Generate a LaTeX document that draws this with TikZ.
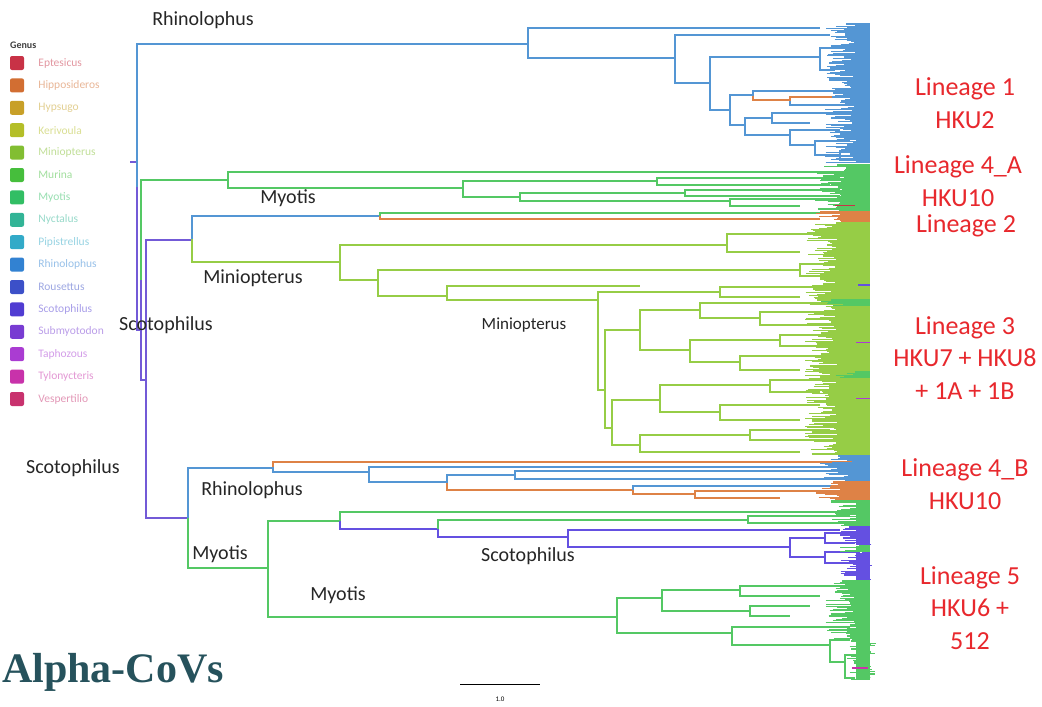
\documentclass[tikz,border=0pt]{standalone}
\usepackage{fontspec}
\setmainfont{Carlito}
\newfontfamily\titlefont{Liberation Serif}
\usetikzlibrary{positioning}

\definecolor{rhC}{RGB}{84,150,212}
\definecolor{myC}{RGB}{84,200,100}
\definecolor{miC}{RGB}{150,205,70}
\definecolor{hiC}{RGB}{222,130,70}
\definecolor{scC}{RGB}{100,80,225}
\definecolor{rootC}{RGB}{115,90,215}
\definecolor{linred}{RGB}{232,40,45}
\definecolor{titleC}{RGB}{38,82,92}
% genus legend colours
\definecolor{g1}{RGB}{200,50,70}
\definecolor{g2}{RGB}{210,110,50}
\definecolor{g3}{RGB}{200,160,40}
\definecolor{g4}{RGB}{180,190,40}
\definecolor{g5}{RGB}{130,190,50}
\definecolor{g6}{RGB}{70,190,60}
\definecolor{g7}{RGB}{50,190,100}
\definecolor{g8}{RGB}{50,180,150}
\definecolor{g9}{RGB}{50,170,200}
\definecolor{g10}{RGB}{50,130,210}
\definecolor{g11}{RGB}{60,80,200}
\definecolor{g12}{RGB}{80,60,210}
\definecolor{g13}{RGB}{120,60,210}
\definecolor{g14}{RGB}{170,60,210}
\definecolor{g15}{RGB}{200,50,170}
\definecolor{g16}{RGB}{200,50,110}

% node x, top y, top end, top style, bottom y, bottom end, bottom style
\newcommand{\fork}[7]{%
  \draw[#4] (#1,{(#2+#5)/2}) -- (#1,#2) -- (#3,#2);
  \draw[#7] (#1,{(#2+#5)/2}) -- (#1,#5) -- (#6,#5);}
% dense tips: colour, from y, to y, left edge
\newcommand{\tips}[4]{%
  \pgfmathtruncatemacro{\tn}{(#3-#2)/1.1}
  \foreach \k in {0,...,\tn}{
    \pgfmathsetmacro{\ty}{#2+\k*1.1}
    \pgfmathsetmacro{\tx}{#4+rnd*32}
    \draw[draw=#1, line width=1.1pt] (\tx,\ty) -- (870,\ty);}
  \fill[fill=#1] (856,#2) rectangle (870,#3);}

\begin{document}
\begin{tikzpicture}[x=1pt, y=-1pt,
  br/.style={line width=1.3pt},
  rh/.style={br, draw=rhC}, my/.style={br, draw=myC}, mi/.style={br, draw=miC},
  hi/.style={br, draw=hiC}, sc/.style={br, draw=scC}, rt/.style={br, draw=rootC},
  clade/.style={font=\fontsize{20}{24}\selectfont, text=black!85, inner sep=0},
  lineage/.style={font=\fontsize{26}{32.5}\selectfont, text=linred, align=center, inner sep=0},
  swatch/.style={minimum size=14pt, inner sep=0, rounded corners=2pt},
  legtext/.style={font=\fontsize{11.5}{13}\selectfont, inner sep=0}]
\fill[white] (0,0) rectangle (1042,707);
\useasboundingbox (0,0) rectangle (1042,707);
\pgfmathsetseed{11}

% Root
\draw[rt] (130,162) -- (137,162);
\fork{137}{44}{528}{rh}{330}{141}{rt}
\fork{141}{180}{228}{my}{380}{146}{rt}
\fork{146}{240}{192}{rt}{518}{188}{rt}

% Lineage 1 (Rhinolophus)
\fork{528}{28}{820}{rh}{58}{675}{rh}
\fork{675}{35}{830}{rh}{83}{710}{rh}
\fork{710}{57}{820}{rh}{110}{730}{rh}
\fork{820}{48}{850}{rh}{70}{835}{rh}
\fork{730}{95}{753}{rh}{125}{745}{rh}
\fork{753}{91}{850}{rh}{100}{790}{hi}
\fork{790}{97}{850}{hi}{105}{835}{rh}
\fork{745}{118}{772}{rh}{135}{790}{rh}
\fork{772}{113}{850}{rh}{123}{810}{rh}
\fork{790}{130}{840}{rh}{145}{815}{rh}
\fork{815}{141}{850}{rh}{155}{840}{rh}
\fork{840}{151}{860}{rh}{160}{855}{rh}

% Lineage 4_A (Myotis)
\fork{228}{172}{840}{my}{188}{463}{my}
\fork{463}{181}{657}{my}{197}{520}{my}
\fork{657}{178}{840}{my}{185}{830}{my}
\fork{520}{193}{685}{my}{201}{730}{my}
\fork{685}{190}{840}{my}{196}{840}{my}
\fork{730}{199}{840}{my}{206}{800}{my}

% Lineage 2 and 3 (Miniopterus)
\fork{192}{216}{380}{rh}{262}{340}{mi}
\fork{380}{213}{850}{my}{219}{820}{hi}
\fork{340}{245}{727}{mi}{280}{378}{mi}
\fork{727}{234}{820}{mi}{252}{800}{mi}
\fork{378}{270}{800}{mi}{296}{447}{mi}
\fork{800}{264}{840}{mi}{276}{830}{mi}
\fork{447}{286}{640}{mi}{300}{598}{mi}
\fork{598}{292}{720}{mi}{390}{605}{mi}
\fork{720}{287}{830}{mi}{297}{800}{mi}
\fork{605}{330}{640}{mi}{428}{612}{mi}
\fork{640}{310}{700}{mi}{350}{690}{mi}
\fork{700}{303}{830}{mi}{318}{760}{mi}
\fork{760}{312}{840}{mi}{325}{820}{mi}
\fork{690}{340}{780}{mi}{362}{740}{mi}
\fork{780}{335}{840}{mi}{346}{830}{mi}
\fork{740}{356}{830}{mi}{370}{800}{mi}
\fork{612}{400}{660}{mi}{445}{640}{mi}
\fork{660}{385}{770}{mi}{412}{720}{mi}
\fork{770}{380}{840}{mi}{392}{820}{mi}
\fork{720}{405}{820}{mi}{420}{800}{mi}
\fork{640}{435}{750}{mi}{452}{800}{mi}
\fork{750}{430}{830}{mi}{440}{830}{mi}

% Lineage 4_B (Rhinolophus / Hipposideros)
\fork{188}{468}{273}{rh}{568}{268}{my}
\fork{273}{462}{860}{hi}{472}{369}{rh}
\fork{369}{467}{860}{rh}{482}{447}{rh}
\fork{447}{475}{515}{rh}{490}{633}{hi}
\fork{515}{471}{860}{rh}{479}{850}{rh}
\fork{633}{486}{850}{rh}{494}{695}{hi}
\fork{695}{491}{850}{hi}{498}{780}{hi}

% Lineage 5 and Scotophilus
\fork{268}{521}{340}{my}{617}{617}{my}
\fork{340}{512}{860}{my}{529}{438}{sc}
\fork{438}{520}{748}{my}{537}{568}{sc}
\fork{748}{516}{850}{my}{523}{840}{my}
\fork{568}{530}{840}{sc}{547}{790}{sc}
\fork{790}{538}{825}{sc}{557}{825}{sc}
\fork{825}{533}{860}{sc}{543}{855}{sc}
\fork{825}{552}{860}{sc}{563}{855}{sc}
\fork{617}{598}{662}{my}{633}{732}{my}
\fork{662}{590}{740}{my}{611}{750}{my}
\fork{740}{586}{850}{my}{596}{820}{my}
\fork{750}{606}{810}{my}{616}{790}{my}
\fork{732}{627}{850}{my}{645}{830}{my}
\fork{830}{640}{850}{my}{662}{845}{my}
\fork{845}{655}{860}{my}{678}{855}{my}

% Tips
\tips{rhC}{24}{163}{825}
\tips{myC}{165}{211}{815}
\tips{hiC}{212}{222}{815}
\tips{miC}{223}{455}{805}
\tips{myC}{300}{306}{815}
\tips{myC}{372}{378}{825}
\tips{rhC}{456}{481}{820}
\tips{hiC}{482}{500}{815}
\tips{myC}{501}{526}{830}
\tips{scC}{527}{545}{840}
\tips{myC}{546}{552}{840}
\tips{scC}{553}{580}{840}
\tips{myC}{581}{640}{825}
\tips{myC}{641}{680}{845}
\draw[g1, line width=1pt] (835,205) -- (855,205);
\draw[g15, line width=1.5pt] (852,668) -- (868,668);
\draw[scC, line width=1.2pt] (858,285) -- (870,285);
\draw[g14, line width=1pt] (856,342) -- (870,342);
\draw[g14, line width=1pt] (856,398) -- (870,398);

% Clade labels
\node[clade] (rhtop) at (203,20) {Rhinolophus};
\node[clade] (mya) at (288,198) {Myotis};
\node[clade] (mina) at (253,278) {Miniopterus};
\node[clade] (sca) at (166,325) {Scotophilus};
\node[clade, font=\fontsize{17}{20}\selectfont] (minb) at (524,325) {Miniopterus};
\node[clade] (scb) at (73,468) {Scotophilus};
\node[clade] (rhb) at (252,490) {Rhinolophus};
\node[clade] (myb) at (220,554) {Myotis};
\node[clade] (scc) at (528,556) {Scotophilus};
\node[clade] (myc) at (338,595) {Myotis};

% Lineage labels
\node[lineage] (lin1) at (965,103) {Lineage 1\\HKU2};
\node[lineage] (lin4a) at (958,181) {Lineage 4\_A\\HKU10};
\node[lineage] (lin2) at (966,226) {Lineage 2};
\node[lineage] (lin3) at (965,358) {Lineage 3\\HKU7 + HKU8\\+ 1A + 1B};
\node[lineage] (lin4b) at (965,484) {Lineage 4\_B\\HKU10};
\node[lineage] (lin5) at (970,608) {Lineage 5\\HKU6 +\\512};

% Legend
\node[font=\bfseries\fontsize{10}{12}\selectfont, text=black!75, anchor=west, inner sep=0] (genus) at (10,45) {Genus};
\foreach \name/\col [count=\i] in {Eptesicus/g1, Hipposideros/g2, Hypsugo/g3, Kerivoula/g4,
    Miniopterus/g5, Murina/g6, Myotis/g7, Nyctalus/g8, Pipistrellus/g9, Rhinolophus/g10,
    Rousettus/g11, Scotophilus/g12, Submyotodon/g13, Taphozous/g14, Tylonycteris/g15, Vespertilio/g16}{
  \node[swatch, fill=\col] (sw\i) at (17,{63+22.4*(\i-1)}) {};
  \node[legtext, text=\col!50!white, right=14pt of sw\i] (lg\i) {\name};
}

% Scale bar
\coordinate (sbl) at (460,684);
\coordinate (sbr) at (540,684);
\draw[black, line width=0.8pt] (sbl) -- (sbr);
\node[font=\fontsize{7}{8}\selectfont, inner sep=0] (sblab) at (500,699) {1.0};

% Title
\node[font={\titlefont\bfseries\fontsize{42}{48}\selectfont}, text=titleC, anchor=west, inner sep=0] (title) at (2,672) {Alpha-CoVs};
\end{tikzpicture}
\end{document}
